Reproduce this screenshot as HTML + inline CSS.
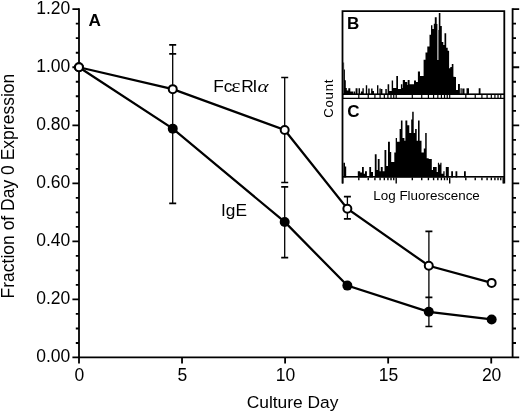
<!DOCTYPE html>
<html><head><meta charset="utf-8"><style>
html,body{margin:0;padding:0;background:#fff;width:520px;height:412px;overflow:hidden}
svg{display:block;will-change:transform}
text{fill:#000}
</style></head><body>
<svg width="520" height="412" viewBox="0 0 520 412">
<path d="M79.0 8.3V363.6M72.4 357.4H519.2M512.6 8.3V357.4" stroke="#000" stroke-width="1.8" fill="none"/>
<path d="M75.8 342.99H79.0M512.6 342.99H516.0M75.8 328.48H79.0M512.6 328.48H516.0M75.8 313.96H79.0M512.6 313.96H516.0M72.4 299.45H79.0M512.6 299.45H519.2M75.8 284.94H79.0M512.6 284.94H516.0M75.8 270.42H79.0M512.6 270.42H516.0M75.8 255.91H79.0M512.6 255.91H516.0M72.4 241.40H79.0M512.6 241.40H519.2M75.8 226.89H79.0M512.6 226.89H516.0M75.8 212.38H79.0M512.6 212.38H516.0M75.8 197.86H79.0M512.6 197.86H516.0M72.4 183.35H79.0M512.6 183.35H519.2M75.8 168.84H79.0M512.6 168.84H516.0M75.8 154.32H79.0M512.6 154.32H516.0M75.8 139.81H79.0M512.6 139.81H516.0M72.4 125.30H79.0M512.6 125.30H519.2M75.8 110.79H79.0M512.6 110.79H516.0M75.8 96.27H79.0M512.6 96.27H516.0M75.8 81.76H79.0M512.6 81.76H516.0M72.4 67.25H79.0M512.6 67.25H519.2M75.8 52.74H79.0M512.6 52.74H516.0M75.8 38.22H79.0M512.6 38.22H516.0M75.8 23.71H79.0M512.6 23.71H516.0M72.4 9.20H79.0M512.6 9.20H519.2M182.03 357.4V363.6M285.10 357.4V363.6M388.17 357.4V363.6M491.24 357.4V363.6" stroke="#000" stroke-width="1.8" fill="none"/>
<text x="70.3" y="362.25" text-anchor="end" style="font-family:'Liberation Sans',sans-serif;font-size:17.5px">0.00</text>
<text x="70.3" y="304.20" text-anchor="end" style="font-family:'Liberation Sans',sans-serif;font-size:17.5px">0.20</text>
<text x="70.3" y="246.15" text-anchor="end" style="font-family:'Liberation Sans',sans-serif;font-size:17.5px">0.40</text>
<text x="70.3" y="188.10" text-anchor="end" style="font-family:'Liberation Sans',sans-serif;font-size:17.5px">0.60</text>
<text x="70.3" y="130.05" text-anchor="end" style="font-family:'Liberation Sans',sans-serif;font-size:17.5px">0.80</text>
<text x="70.3" y="72.00" text-anchor="end" style="font-family:'Liberation Sans',sans-serif;font-size:17.5px">1.00</text>
<text x="70.3" y="13.95" text-anchor="end" style="font-family:'Liberation Sans',sans-serif;font-size:17.5px">1.20</text>
<text x="79.36" y="380.7" text-anchor="middle" style="font-family:'Liberation Sans',sans-serif;font-size:17.5px">0</text>
<text x="182.43" y="380.7" text-anchor="middle" style="font-family:'Liberation Sans',sans-serif;font-size:17.5px">5</text>
<text x="285.50" y="380.7" text-anchor="middle" style="font-family:'Liberation Sans',sans-serif;font-size:17.5px">10</text>
<text x="388.57" y="380.7" text-anchor="middle" style="font-family:'Liberation Sans',sans-serif;font-size:17.5px">15</text>
<text x="491.64" y="380.7" text-anchor="middle" style="font-family:'Liberation Sans',sans-serif;font-size:17.5px">20</text>
<text x="292.6" y="407.6" text-anchor="middle" style="font-family:'Liberation Sans',sans-serif;font-size:17.4px">Culture Day</text>
<text transform="translate(14.2 186.1) rotate(-90)" text-anchor="middle" style="font-family:'Liberation Sans',sans-serif;font-size:17.5px">Fraction of Day 0 Expression</text>
<text x="88.6" y="25.6" style="font-family:'Liberation Sans',sans-serif;font-size:17.2px;font-weight:bold">A</text>
<text x="213.2" y="91.5" style="font-family:'Liberation Sans',sans-serif;font-size:17.3px">Fc</text>
<text transform="translate(231.3 91.5) scale(1.27 1.05)" style="font-family:'Liberation Serif',serif;font-size:17.3px">ε</text>
<text y="91.5" style="font-family:'Liberation Sans',sans-serif;font-size:17.3px"><tspan x="241.2">R</tspan><tspan x="252.6">I</tspan></text>
<text transform="translate(257.6 91.5) scale(1.22 1.0)" style="font-family:'Liberation Serif',serif;font-size:17.3px;font-style:italic">α</text>
<text x="221.0" y="215.9" style="font-family:'Liberation Sans',sans-serif;font-size:17.3px">IgE</text>
<path d="M78.96 67.25L172.75 89.16L284.69 129.94L347.35 208.75L428.78 265.78L491.65 282.91" stroke="#000" stroke-width="2.25" fill="none"/>
<path d="M78.96 67.25L172.75 128.64L284.69 221.95L347.35 285.61L428.78 311.79L491.65 319.48" stroke="#000" stroke-width="2.25" fill="none"/>
<path d="M172.7 44.8V88.8M172.7 53.9V203.4M284.7 77.5V182.5M284.7 186.8V257.6M347.4 196.6V218.9M428.9 231.3V297.4M428.9 297.4V326.5" stroke="#000" stroke-width="1.3" fill="none"/>
<path d="M169.20 44.8H176.20M169.20 53.9H176.20M169.20 203.4H176.20M281.20 77.5H288.20M281.20 182.5H288.20M281.20 186.8H288.20M281.20 257.6H288.20M343.90 196.6H350.90M343.90 218.9H350.90M425.40 231.3H432.40M425.40 297.4H432.40M425.40 326.5H432.40" stroke="#000" stroke-width="1.7" fill="none"/>
<circle cx="78.96" cy="67.25" r="5.0" fill="#000"/>
<circle cx="172.75" cy="128.64" r="5.0" fill="#000"/>
<circle cx="284.69" cy="221.95" r="5.0" fill="#000"/>
<circle cx="347.35" cy="285.61" r="5.0" fill="#000"/>
<circle cx="428.78" cy="311.79" r="5.0" fill="#000"/>
<circle cx="491.65" cy="319.48" r="5.0" fill="#000"/>
<circle cx="78.96" cy="67.25" r="4.00" fill="#fff" stroke="#000" stroke-width="2.0"/>
<circle cx="172.75" cy="89.16" r="4.00" fill="#fff" stroke="#000" stroke-width="2.0"/>
<circle cx="284.69" cy="129.94" r="4.00" fill="#fff" stroke="#000" stroke-width="2.0"/>
<circle cx="347.35" cy="208.75" r="4.00" fill="#fff" stroke="#000" stroke-width="2.0"/>
<circle cx="428.78" cy="265.78" r="4.00" fill="#fff" stroke="#000" stroke-width="2.0"/>
<circle cx="491.65" cy="282.91" r="4.00" fill="#fff" stroke="#000" stroke-width="2.0"/>
<rect x="342.5" y="11.1" width="161.8" height="165.9" fill="#fff"/>
<path d="M343.4 95.0V62.5H344.1V95.0ZM344.1 95.0V69.6H344.9V95.0ZM344.9 95.0V80.2H345.8V95.0ZM345.8 95.0V88H346.8V95.0ZM346.8 95.0V90.5H348.3V95.0ZM348.3 95.0V88.2H350.3V95.0ZM350.3 95.0V91.5H351.7V95.0ZM351.7 95.0V91.6H353.2V95.0ZM353.7 95.0V91.6H355.1V95.0ZM355.6 95.0V88.2H357.5V95.0ZM358.5 95.0V88.2H360V95.0ZM360.9 95.0V91.6H362.4V95.0ZM362.4 95.0V88.2H363.8V95.0ZM365.8 95.0V85.2H367.2V95.0ZM368.2 95.0V88.6H369.7V95.0ZM371.1 95.0V88.6H372.6V95.0ZM372.6 95.0V91H374V95.0ZM377 95.0V85.2H378.4V95.0ZM379.4 95.0V88.6H380.8V95.0ZM381 95.0V89.1H382.4V95.0ZM385.3 95.0V89.1H386.8V95.0ZM387.6 95.0V84.3H389.2V95.0ZM389.2 95.0V91H391.7V95.0ZM391.7 95.0V80.4H393.1V95.0ZM393.1 95.0V88H396.3V95.0ZM396.3 95.0V76H398V95.0ZM398 95.0V89H400.9V95.0ZM400.9 95.0V84.3H402.3V95.0ZM402.3 95.0V88H402.8V95.0ZM402.8 95.0V79.9H405V95.0ZM405 95.0V82H407.2V95.0ZM407.2 95.0V85H407.7V95.0ZM407.7 95.0V80H409.6V95.0ZM409.6 95.0V84.3H414V95.0ZM414 95.0V80.4H416V95.0ZM416 95.0V82H417.9V95.0ZM417.9 95.0V71.6H420V95.0ZM420 95.0V76H423.6V95.0ZM423.6 95.0V59.7H425.5V95.0ZM425.5 95.0V52.4H427.3V95.0ZM427.3 95.0V46.4H429.5V95.0ZM429.5 95.0V34.7H431V95.0ZM431 95.0V25.3H432.4V95.0ZM432.4 95.0V29H433.8V95.0ZM433.8 95.0V23.8H434.8V95.0ZM434.8 95.0V17.3H436.7V95.0ZM436.7 95.0V24H437.4V95.0ZM437.4 95.0V60H438.4V95.0ZM438.4 95.0V30H438.8V95.0ZM438.8 95.0V12.9H440.4V95.0ZM440.4 95.0V26H441.8V95.0ZM441.8 95.0V42H443.3V95.0ZM443.3 95.0V45H444.5V95.0ZM444.5 95.0V33.3H446.2V95.0ZM446.2 95.0V47.8H447.7V95.0ZM447.7 95.0V50.8H449.1V95.0ZM449.1 95.0V68.2H450.3V95.0ZM450.3 95.0V67H451.8V95.0ZM451.8 95.0V64H453.4V95.0ZM453.4 95.0V76.7H454.6V95.0ZM454.6 95.0V77H456V95.0ZM456 95.0V90H458V95.0ZM458 95.0V84H459.9V95.0ZM460.5 95.0V88.2H461.7V95.0ZM462.3 95.0V88.5H464.5V95.0ZM466.5 95.0V88.2H469V95.0ZM478.7 95.0V88.2H480.5V95.0Z" fill="#000"/>
<path d="M343.4 177.6V162.8H345V177.6ZM345 177.6V166.4H346.2V177.6ZM357.8 177.6V171.3H360.2V177.6ZM360.2 177.6V172.5H362V177.6ZM362 177.6V167H363.8V177.6ZM363.8 177.6V173.7H365V177.6ZM365 177.6V171.3H366.9V177.6ZM369.3 177.6V167H371.1V177.6ZM371.1 177.6V171.9H373V177.6ZM374.8 177.6V154.3H376.6V177.6ZM376.6 177.6V170H377.8V177.6ZM377.8 177.6V159.1H379.6V177.6ZM379.6 177.6V171.3H380.8V177.6ZM380.8 177.6V167H382.7V177.6ZM382.7 177.6V171.3H384.5V177.6ZM384.5 177.6V150H386.3V177.6ZM386.3 177.6V166H388V177.6ZM388 177.6V141.7H389.9V177.6ZM389.9 177.6V152H391.2V177.6ZM391.2 177.6V162H394.3V177.6ZM394.3 177.6V152.4H395.7V177.6ZM395.7 177.6V137.9H397V177.6ZM397 177.6V141.7H399.6V177.6ZM399.6 177.6V129.1H400.9V177.6ZM400.9 177.6V120.4H402.5V177.6ZM402.5 177.6V137.9H404.4V177.6ZM404.4 177.6V140.8H405.4V177.6ZM405.4 177.6V120.4H407.3V177.6ZM407.3 177.6V125.2H409.3V177.6ZM409.3 177.6V133H411.2V177.6ZM411.2 177.6V119.4H412.2V177.6ZM412.2 177.6V111.7H413.7V177.6ZM413.7 177.6V133H415.1V177.6ZM415.1 177.6V129.1H416.7V177.6ZM416.7 177.6V140.8H418V177.6ZM418 177.6V120.4H419.6V177.6ZM419.6 177.6V140.8H421.5V177.6ZM421.5 177.6V152.4H423.8V177.6ZM423.8 177.6V148.5H425.2V177.6ZM425.2 177.6V133H426.7V177.6ZM426.7 177.6V158.3H428.7V177.6ZM428.7 177.6V159.1H431.8V177.6ZM431.8 177.6V170H433V177.6ZM433 177.6V167H436.7V177.6ZM436.7 177.6V171.9H437.9V177.6ZM437.9 177.6V162.8H439.1V177.6ZM439.1 177.6V164.6H440.3V177.6ZM440.3 177.6V162.8H441.5V177.6ZM441.5 177.6V173.7H443.3V177.6ZM443.3 177.6V171.3H444.6V177.6ZM445.8 177.6V167H448.8V177.6ZM451.2 177.6V171.3H453V177.6ZM455.5 177.6V171.3H457.3V177.6ZM464 177.6V171.3H465.8V177.6Z" fill="#000"/>
<rect x="342.5" y="93.4" width="161.8" height="1.5999999999999943" fill="#000"/>
<rect x="342.5" y="176.0" width="161.8" height="1.5999999999999943" fill="#000"/>
<path d="M342.70 95V98M358.81 95V98M368.23 95V98M374.91 95V98M380.09 95V98M384.33 95V98M387.91 95V98M391.02 95V98M393.75 95V98M396.20 95V98M412.31 95V98M421.73 95V98M428.41 95V98M433.59 95V98M437.83 95V98M441.41 95V98M444.52 95V98M447.25 95V98M449.70 95V98M465.81 95V98M475.23 95V98M481.91 95V98M487.09 95V98M491.33 95V98M494.91 95V98M498.02 95V98M500.75 95V98" stroke="#000" stroke-width="1.2" fill="none"/>
<path d="M342.70 177.6V183.6M358.81 177.6V180.3M368.23 177.6V180.3M374.91 177.6V180.3M380.09 177.6V180.3M384.33 177.6V180.3M387.91 177.6V180.3M391.02 177.6V180.3M393.75 177.6V180.3M396.20 177.6V183.6M412.31 177.6V180.3M421.73 177.6V180.3M428.41 177.6V180.3M433.59 177.6V180.3M437.83 177.6V180.3M441.41 177.6V180.3M444.52 177.6V180.3M447.25 177.6V180.3M449.70 177.6V183.6M465.81 177.6V180.3M475.23 177.6V180.3M481.91 177.6V180.3M487.09 177.6V180.3M491.33 177.6V180.3M494.91 177.6V180.3M498.02 177.6V180.3M500.75 177.6V180.3M503.20 177.6V183.6" stroke="#000" stroke-width="1.4" fill="none"/>
<path d="M342.5 183.6V11.1H504.3V183.6" stroke="#000" stroke-width="1.8" fill="none"/>
<path d="M342.5 98.4H504.3" stroke="#000" stroke-width="1.3" fill="none"/>
<text x="347.0" y="29.3" style="font-family:'Liberation Sans',sans-serif;font-size:17px;font-weight:bold">B</text>
<text x="347.3" y="116.7" style="font-family:'Liberation Sans',sans-serif;font-size:17px;font-weight:bold">C</text>
<text transform="translate(333.4 98.3) rotate(-90)" text-anchor="middle" style="font-family:'Liberation Sans',sans-serif;font-size:13.2px;letter-spacing:0.7px">Count</text>
<text x="426.6" y="199.6" text-anchor="middle" style="font-family:'Liberation Sans',sans-serif;font-size:13.4px">Log Fluorescence</text>
</svg>
</body></html>
